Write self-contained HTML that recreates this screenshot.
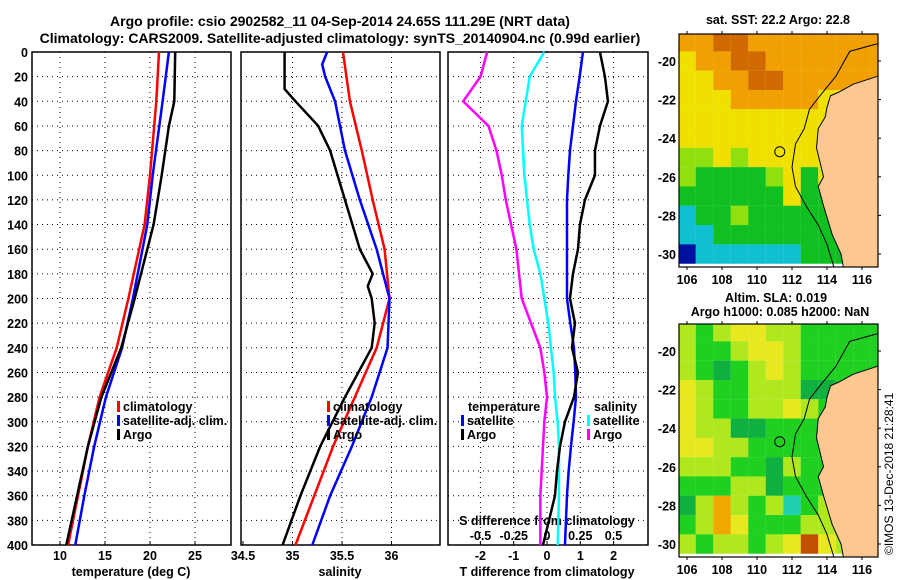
<!DOCTYPE html>
<html><head><meta charset="utf-8"><style>
body{margin:0;background:#fff}
svg{display:block;font-family:"Liberation Sans",sans-serif;font-weight:bold}
text{font-size:12.5px}
</style></head><body>
<svg id="c" width="900" height="580" viewBox="0 0 900 580">
<text x="340" y="26" text-anchor="middle" style="font-size:14px">Argo profile: csio 2902582_11 04-Sep-2014 24.65S 111.29E (NRT data)</text>
<text x="340" y="43" text-anchor="middle" style="font-size:14px">Climatology: CARS2009. Satellite-adjusted climatology: synTS_20140904.nc (0.99d earlier)</text>
<g id="g"></g>
</svg>
<script>
// ---- data ----
const tDepth=[0,40,100,140,200,240,280,320,360,400];
const tClim=[21.0,20.7,20.0,19.4,17.6,16.3,14.4,13.1,12.0,10.9];
const tSat=[22.1,21.4,20.3,19.7,18.1,16.9,15.1,13.8,12.7,11.7];
const tArgoDepth=[0,40,60,80,100,140,200,240,280,320,360,400];
const tArgo=[22.8,22.7,22.1,21.7,21.3,20.4,18.3,16.8,14.6,13.1,11.9,10.7];
const sDepth=[0,40,80,120,160,200,240,280,320,360,400];
const sClim=[35.51,35.58,35.70,35.81,35.93,35.98,35.85,35.63,35.41,35.22,35.03];
const sSatDepth=[0,10,20,40,80,120,160,200,240,280,320,360,400];
const sSat=[35.35,35.30,35.33,35.43,35.53,35.68,35.85,35.98,35.96,35.80,35.60,35.38,35.20];
const sArgoDepth=[0,30,40,60,80,120,160,180,190,200,220,240,280,320,360,400];
const sArgo=[34.92,34.92,35.03,35.26,35.38,35.53,35.68,35.81,35.76,35.80,35.83,35.80,35.53,35.28,35.08,34.90];
const dDepth=[0,20,40,60,80,100,120,140,160,180,200,220,240,260,280,300,320,340,360,400];
const dTArgo=[1.59,1.74,1.83,1.59,1.44,1.44,1.14,0.99,0.93,0.78,0.69,0.84,0.75,0.93,0.81,0.54,0.39,0.30,0.24,-0.12];
const dTSat=[1.08,0.98,0.87,0.78,0.69,0.64,0.60,0.60,0.60,0.60,0.60,0.70,0.81,0.85,0.87,0.80,0.72,0.65,0.60,0.54];
const dSArgo=[-0.45,-0.50,-0.63,-0.44,-0.38,-0.34,-0.31,-0.27,-0.23,-0.21,-0.19,-0.12,-0.05,-0.02,0.00,-0.02,-0.03,-0.04,-0.05,-0.05];
const dSSat=[-0.02,-0.13,-0.16,-0.19,-0.18,-0.17,-0.15,-0.13,-0.10,-0.05,-0.02,0.01,0.03,0.05,0.06,0.08,0.09,0.09,0.09,0.08];
const depthTicks=[0,20,40,60,80,100,120,140,160,180,200,220,240,260,280,300,320,340,360,380,400];
const tTicks=[10,15,20,25];
const sTicks=[34.5,35,35.5,36];
const dTicks=[-2,-1,0,1,2];
const sdTickLabels=["-0.5","-0.25","0","0.25","0.5"];
const lonTicks=[106,108,110,112,114,116];
const latTicks=[-20,-22,-24,-26,-28,-30];
const mapLons=[106,107,108,109,110,111,112,113,114,115,116,117];
const mapLats=[-19,-20,-21,-22,-23,-24,-25,-26,-27,-28,-29,-30];
const sstGrid=[
[5,5,6,6,5,5,5,5,5,5,5,5],[4,5,5,6,6,5,5,5,5,5,5,5],[4,4,5,5,6,6,5,5,5,5,5,5],
[4,4,4,5,5,5,5,5,4,4,5,5],[4,4,4,4,4,4,4,4,4,4,4,4],[4,4,4,4,4,4,4,4,4,4,4,4],
[3,3,4,3,4,4,4,4,4,3,3,3],[3,2,2,2,2,3,4,2,4,3,3,3],[2,2,2,2,2,2,4,2,2,3,3,3],
[1,2,2,3,2,2,2,2,2,3,3,3],[1,1,2,2,2,2,2,2,2,2,2,2],[0,1,1,1,1,1,1,2,2,2,2,2]];
const slaGrid=[
[3,2,3,4,4,3,3,2,2,2,2,2],[3,2,2,3,4,4,3,2,2,2,2,2],[3,2,1,2,3,4,3,2,2,2,2,2],
[4,3,2,2,3,3,3,1,1,2,2,2],[4,3,2,2,3,3,4,3,2,2,2,2],[4,3,3,1,1,2,2,2,2,2,3,3],
[4,4,3,3,2,2,2,2,2,2,3,3],[3,3,3,2,2,1,3,2,2,2,3,3],[2,2,2,3,3,1,2,2,2,3,3,3],
[1,3,5,3,2,3,0,2,3,3,3,3],[2,3,5,4,2,2,2,3,3,3,3,3],[3,2,3,3,2,3,4,6,4,3,3,3]];
const coast=[[117.2,-20.7],[115.5,-21.2],[114.7,-21.6],[114.2,-21.8],[114.0,-22.4],[113.9,-22.9],[113.5,-23.5],[113.4,-24.5],[113.8,-26.0],[113.5,-26.5],[113.8,-27.5],[114.3,-29.0],[114.8,-30.0],[115.0,-31.0],[117.2,-31.0]];
const isobath=[[116.9,-19.1],[115.3,-19.5],[114.5,-20.8],[113.6,-21.8],[113.0,-22.5],[112.7,-23.5],[112.2,-24.3],[112.0,-25.5],[112.2,-26.5],[112.8,-27.5],[113.5,-28.5],[114.0,-29.5],[114.4,-30.7]];
const argoPos=[111.3,-24.7];
// ---- drawing ----
const NS="http://www.w3.org/2000/svg",g=document.getElementById('g');
function el(t,a,p){const e=document.createElementNS(NS,t);for(const k in a)e.setAttribute(k,a[k]);(p||g).appendChild(e);return e;}
const Y0=52,Y1=545;const y=d=>Y0+d/400*(Y1-Y0);
const xT=v=>60+(v-10)*9, xS=v=>243+(v-34.5)*99, xD=v=>547+v*33.3, xSD=v=>547+v*133;
function frame(x0,x1,name){
  const r=el('rect',{x:x0,y:Y0,width:x1-x0,height:Y1-Y0,fill:'none',stroke:'#000','stroke-width':1.5});
  
  depthTicks.forEach(d=>{if(d>0&&d<400){const l=el('line',{x1:x0,x2:x1,y1:y(d),y2:y(d),stroke:'#000','stroke-dasharray':'1 4'});}});
}
function vgrid(ticks,fx,x0,x1){ticks.forEach(v=>{const X=fx(v);if(X>x0+2&&X<x1-2){const l=el('line',{x1:X,x2:X,y1:Y0,y2:Y1,stroke:'#000','stroke-dasharray':'1 4'});}
 const t=el('line',{x1:X,x2:X,y1:Y1,y2:Y1-4,stroke:'#000'});});}
function xlabels(ticks,fx,labels,yy,nm){ticks.forEach((v,i)=>{const t=el('text',{x:fx(v),y:yy,'text-anchor':'middle'});t.textContent=labels?labels[i]:String(v);});}
function line(ds,vs,fx,col,name){const p=el('polyline',{points:ds.map((d,i)=>fx(vs[i])+','+y(d)).join(' '),fill:'none',stroke:col,'stroke-width':2.5});}
function txt(x,yy,s,name,extra){const t=el('text',Object.assign({x:x,y:yy},extra||{}));t.textContent=s;return t;}
function leg(x,yy,col,s,name){const r=el('rect',{x:x,y:yy-10,width:3,height:11,fill:col});txt(x+6,yy,s,name);}
// panel 1
frame(32,231,'temperature-panel');vgrid(tTicks,xT,32,231);
depthTicks.forEach(d=>txt(28,y(d)+5,String(d),'depth-tick-label',{'text-anchor':'end'}));
xlabels(tTicks,xT,null,560,'temperature-tick-label');
txt(131,576,'temperature (deg C)','x-axis-title-temperature',{'text-anchor':'middle'});
line(tDepth,tClim,xT,'#f00','temp-climatology-line');line(tDepth,tSat,xT,'#00f','temp-satellite-line');line(tArgoDepth,tArgo,xT,'#000','temp-argo-line');
leg(117,411,'#f00','climatology','legend-climatology');leg(117,425,'#00f','satellite-adj. clim.','legend-satellite');leg(117,439,'#000','Argo','legend-argo');
// panel 2
frame(241,440,'salinity-panel');vgrid(sTicks,xS,241,440);
xlabels(sTicks,xS,null,560,'salinity-tick-label');
txt(340,576,'salinity','x-axis-title-salinity',{'text-anchor':'middle'});
line(sDepth,sClim,xS,'#f00','sal-climatology-line');line(sSatDepth,sSat,xS,'#00f','sal-satellite-line');line(sArgoDepth,sArgo,xS,'#000','sal-argo-line');
leg(327,411,'#f00','climatology','legend-climatology');leg(327,425,'#00f','satellite-adj. clim.','legend-satellite');leg(327,439,'#000','Argo','legend-argo');
// panel 3
frame(448,648,'difference-panel');vgrid(dTicks,xD,448,648);
xlabels(dTicks,xD,null,560,'tdiff-tick-label');
txt(547,576,'T difference from climatology','x-axis-title-tdiff',{'text-anchor':'middle'});
txt(547,525,'S difference from climatology','s-diff-axis-title',{'text-anchor':'middle'});
xlabels([-0.5,-0.25,0,0.25,0.5],xSD,sdTickLabels,540,'sdiff-tick-label');
line(dDepth,dSArgo,xSD,'#f0f','sdiff-argo-line');line(dDepth,dSSat,xSD,'#0ff','sdiff-satellite-line');
line(dDepth,dTSat,xD,'#00f','tdiff-satellite-line');line(dDepth,dTArgo,xD,'#000','tdiff-argo-line');
txt(468,411,'temperature','legend-temperature-header');leg(461,425,'#00f','satellite','legend-t-satellite');leg(461,439,'#000','Argo','legend-t-argo');
txt(594,411,'salinity','legend-salinity-header');leg(587,425,'#0ff','satellite','legend-s-satellite');leg(587,439,'#f0f','Argo','legend-s-argo');
// maps
const MX0=679,MX1=878,lx=v=>687+(v-106)*17.5;
const sstCols=['#0010a0','#10c0d0','#10c020','#90e010','#f0e000','#f0a000','#d06a00'];
const slaCols=['#20d0b0','#10b040','#20d020','#b0e820','#e8e820','#f0a800','#c05000'];
function map(top,grid,cols,name,ticks){
  const ly=v=>top+27+(-20-v)*19.3, bot=top+233;
  const cp=el('clipPath',{id:'cp'+top});el('rect',{x:MX0,y:top,width:MX1-MX0,height:233},cp);
  const gg=el('g',{'clip-path':'url(#cp'+top+')'});
  mapLats.forEach((la,i)=>mapLons.forEach((lo,j)=>{const c=el('rect',{x:lx(lo-0.5),y:ly(la+0.5),width:17.6,height:19.4,fill:cols[grid[i][j]]},gg);}));
  const land=el('polygon',{points:coast.map(p=>lx(p[0])+','+ly(p[1])).join(' '),fill:'#fcc890',stroke:'#000','stroke-width':1},gg);
  const iso=el('polyline',{points:isobath.map(p=>lx(p[0])+','+ly(p[1])).join(' '),fill:'none',stroke:'#000','stroke-width':1},gg);
  const ci=el('circle',{cx:lx(argoPos[0]),cy:ly(argoPos[1]),r:5,fill:'none',stroke:'#000','stroke-width':1},gg);
  const fr=el('rect',{x:MX0,y:top,width:MX1-MX0,height:233,fill:'none',stroke:'#000','stroke-width':1.2});
  lonTicks.forEach(v=>{txt(lx(v),bot+17,String(v),'lon-tick-label',{'text-anchor':'middle'});el('line',{x1:lx(v),x2:lx(v),y1:top,y2:top-3,stroke:'#000'});el('line',{x1:lx(v),x2:lx(v),y1:bot,y2:bot+3,stroke:'#000'});});
  latTicks.forEach(v=>{txt(676,ly(v)+5,String(v),'lat-tick-label',{'text-anchor':'end'});el('line',{x1:MX1,x2:MX1+3,y1:ly(v),y2:ly(v),stroke:'#000'});});
}
map(34,sstGrid,sstCols,'sst-map');map(324,slaGrid,slaCols,'sla-map');
txt(778,24,'sat. SST: 22.2 Argo: 22.8','sst-map-title',{'text-anchor':'middle'});
txt(776,302,'Altim. SLA: 0.019','sla-map-title',{'text-anchor':'middle'});
txt(780,316,'Argo h1000: 0.085 h2000: NaN','sla-map-subtitle',{'text-anchor':'middle'});
txt(0,0,'©IMOS 13-Dec-2018 21:28:41','timestamp',{transform:'translate(893,555) rotate(-90)',style:'font-weight:normal;font-size:12px'});
</script>
</body></html>
